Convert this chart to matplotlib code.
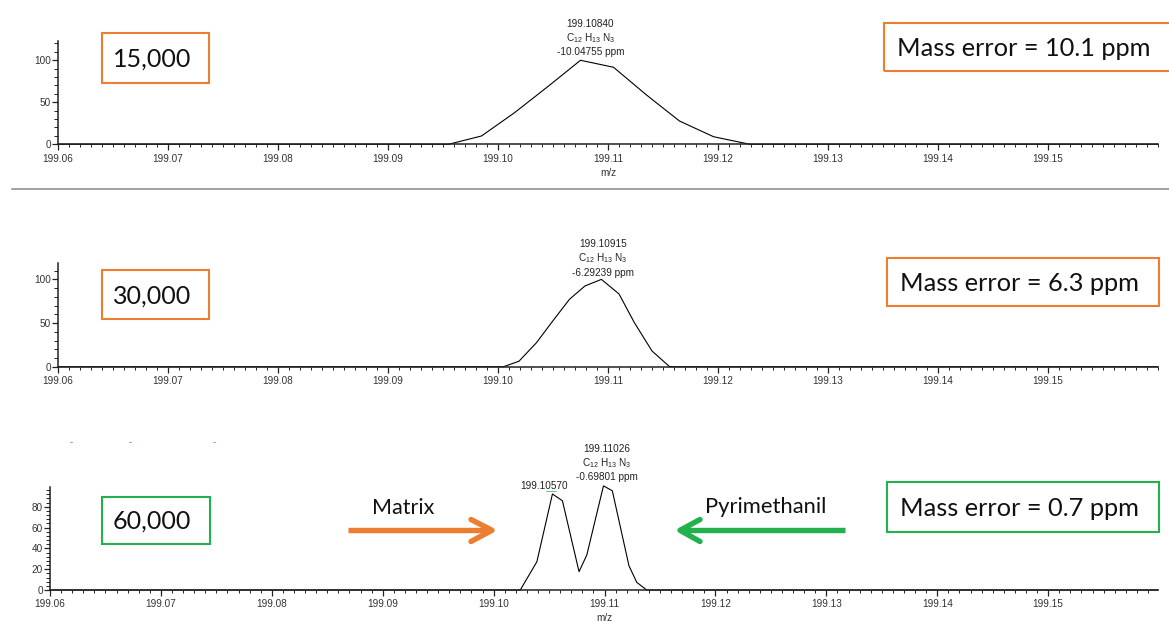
import matplotlib
matplotlib.use('Agg')
import matplotlib.pyplot as plt
from matplotlib.ticker import MultipleLocator
from matplotlib.patches import Rectangle
from matplotlib.lines import Line2D

plt.rcParams['font.family'] = ['Liberation Sans', 'DejaVu Sans']
plt.rcParams['mathtext.fontset'] = 'custom'
plt.rcParams['mathtext.rm'] = 'Liberation Sans'
plt.rcParams['mathtext.it'] = 'Liberation Sans'

# spectra (m/z, relative intensity)
mz_15k = [199.0600, 199.0955, 199.0985, 199.1015, 199.1046, 199.1075, 199.1105,
          199.1135, 199.1165, 199.1196, 199.1229, 199.1600]
int_15k = [0, 0, 9.9, 37.6, 69.4, 100, 91.7, 58.7, 27.7, 9.0, 0, 0]

mz_30k = [199.0600, 199.1005, 199.1019, 199.1035, 199.1050, 199.1065, 199.1079,
          199.1094, 199.1110, 199.1124, 199.1140, 199.1156, 199.1600]
int_30k = [0, 0, 6.2, 27.5, 52.7, 77.2, 92.4, 100, 83.3, 50.4, 18, 0, 0]

mz_60k = [199.0600, 199.1024, 199.1039, 199.1053, 199.1062, 199.1077, 199.1084,
          199.1099, 199.1107, 199.1122, 199.1129, 199.1138, 199.1599]
int_60k = [0, 0, 27.2, 92.2, 85.7, 17.6, 33.6, 100, 95.3, 23.3, 7.4, 0, 0]

x_ticks = [199.06, 199.07, 199.08, 199.09, 199.10, 199.11, 199.12, 199.13, 199.14, 199.15]
x_labels = ['199.06', '199.07', '199.08', '199.09', '199.10', '199.11', '199.12',
            '199.13', '199.14', '199.15']

resolutions = ['15,000', '30,000', '60,000']
mass_errors = ['Mass error = 10.1 ppm', 'Mass error = 6.3 ppm', 'Mass error = 0.7 ppm']
peak_mz = [199.10840, 199.10915, 199.11026]
peak_ppm = ['-10.04755 ppm', '-6.29239 ppm', '-0.69801 ppm']
matrix_mz = 199.10570
formula = 'C$_{12}$ H$_{13}$ N$_{3}$'

orange = '#ED7D31'
green = '#22B14C'

W, H = 1169, 622
fig = plt.figure(figsize=(W / 100, H / 100), dpi=100)


def fx(x):
    return x / W


def fy(y):
    return 1 - y / H


def pt(px):
    return px * 0.72


# (left, top, right, bottom) in pixels, xmax, ymax, y minor step, y ticks
panels = [
    ((58, 40.7, 1158, 144.3), 199.1600, 123.3, 10, [0, 50, 100]),
    ((58, 263.3, 1158, 366.7), 199.1600, 118.4, 10, [0, 50, 100]),
    ((50, 486.7, 1158, 590), 199.1599, 99.2, 4, [0, 20, 40, 60, 80]),
]
spectra = [(mz_15k, int_15k), (mz_30k, int_30k), (mz_60k, int_60k)]
label_dx = [0, 4, -1]
label_dy = [(36.3, 22.3, 8.0), (35.3, 21.3, 6.6), (36.5, 23.1, 8.5)]
box_colors = [orange, orange, green]
fs_small = 7.2

axes = []
for i, ((l, t, r, b), xmax, ymax, ystep, yticks) in enumerate(panels):
    ax = fig.add_axes([fx(l), fy(b), (r - l) / W, (b - t) / H])
    mz, inten = spectra[i]
    ax.plot(mz, inten, color='black', lw=0.8, clip_on=False)
    ax.set_xlim(199.06, xmax)
    ax.set_ylim(0, ymax)
    for s in ['top', 'right']:
        ax.spines[s].set_visible(False)
    for s in ['left', 'bottom']:
        ax.spines[s].set_linewidth(1.1)
        ax.spines[s].set_color('#222222')
    ax.set_xticks(x_ticks, x_labels)
    ax.xaxis.set_minor_locator(MultipleLocator(0.001))
    ax.set_xlim(199.06, xmax)
    ax.set_yticks(yticks)
    ax.yaxis.set_minor_locator(MultipleLocator(ystep))
    ax.tick_params(axis='x', which='major', length=4.5, width=0.9, pad=2.2,
                   labelsize=fs_small, labelcolor='#333333', color='#222222')
    ax.tick_params(axis='x', which='minor', length=2.2, width=0.7, color='#222222')
    ax.tick_params(axis='y', which='major', length=4, width=0.9, pad=1,
                   labelsize=fs_small, labelcolor='#333333', color='#222222')
    ax.tick_params(axis='y', which='minor', length=3, width=0.7, color='#222222')
    ax.patch.set_visible(False)

    # peak labels: centroid, formula, mass error
    for txt, dy in zip(['%.5f' % peak_mz[i], formula, peak_ppm[i]], label_dy[i]):
        ax.annotate(txt, xy=(peak_mz[i], 100), xytext=(pt(label_dx[i]), pt(dy)),
                    textcoords='offset points', ha='center', va='center',
                    fontsize=fs_small, color='#222222', annotation_clip=False)
    axes.append(ax)

# matrix peak label in the 60,000 panel
axes[2].annotate('%.5f' % matrix_mz, xy=(matrix_mz, 92.2), xytext=(pt(-12.6), pt(8.4)),
                 textcoords='offset points', ha='center', va='center',
                 fontsize=fs_small, color='#222222', annotation_clip=False)
fig.add_artist(Line2D([fx(546), fx(556)], [fy(490.9), fy(490.9)], color=green, lw=0.5))

axes[0].set_xlabel('m/z', fontsize=fs_small, color='#333333', labelpad=3)
axes[2].set_xlabel('m/z', fontsize=fs_small, color='#333333', labelpad=3)

# resolution boxes and mass error boxes
res_boxes = [(101.7, 33.3, 209.3, 82.7), (101.7, 270, 209.3, 319.3), (101.7, 496.7, 209.7, 544.3)]
err_boxes = [(884.3, 23.3, 1172, 71), (886.7, 258.3, 1159.3, 306), (886.7, 482.3, 1159.3, 532.3)]
for i in range(3):
    for (l, t, r, b) in [res_boxes[i], err_boxes[i]]:
        fig.add_artist(Rectangle((fx(l), fy(b)), (r - l) / W, (b - t) / H, transform=fig.transFigure,
                                 fill=False, edgecolor=box_colors[i], lw=1.5))
    l, t, r, b = res_boxes[i]
    fig.text(fx(152), fy((t + b) / 2 + 1), resolutions[i], ha='center', va='center',
             fontsize=18, family='Lato', color='#111111')
    l, t, r, b = err_boxes[i]
    fig.text(fx(l + 13), fy((t + b) / 2 + 1), mass_errors[i], ha='left', va='center',
             fontsize=18.3, family='Lato', color='#111111')

# arrows in the 60,000 panel
fig.add_artist(Line2D([fx(348), fx(488)], [fy(530.3), fy(530.3)], color=orange, lw=3.9,
                      solid_capstyle='butt'))
fig.add_artist(Line2D([fx(471), fx(492), fx(471)], [fy(519.5), fy(530.3), fy(541.5)],
                      color=orange, lw=3.9, solid_capstyle='round', solid_joinstyle='round'))
fig.text(fx(403), fy(508.3), 'Matrix', ha='center', va='center', fontsize=15.5, family='Lato',
         color='#111111')

fig.add_artist(Line2D([fx(845), fx(684)], [fy(530.3), fy(530.3)], color=green, lw=3.9,
                      solid_capstyle='butt'))
fig.add_artist(Line2D([fx(700), fx(680), fx(700)], [fy(519.5), fy(530.3), fy(541.5)],
                      color=green, lw=3.9, solid_capstyle='round', solid_joinstyle='round'))
fig.text(fx(765.5), fy(506.7), 'Pyrimethanil', ha='center', va='center', fontsize=15.8,
         family='Lato', color='#111111')

# separator under the first panel
fig.add_artist(Line2D([fx(12), fx(1169)], [fy(189), fy(189)], color='#888888', lw=1.1))

# small leftover marks
for x0 in [70, 129, 213]:
    fig.add_artist(Line2D([fx(x0), fx(x0 + 1.5)], [fy(442.3), fy(442.3)], color='#8090dd', lw=0.6))

fig.savefig('out.png', dpi=100)
